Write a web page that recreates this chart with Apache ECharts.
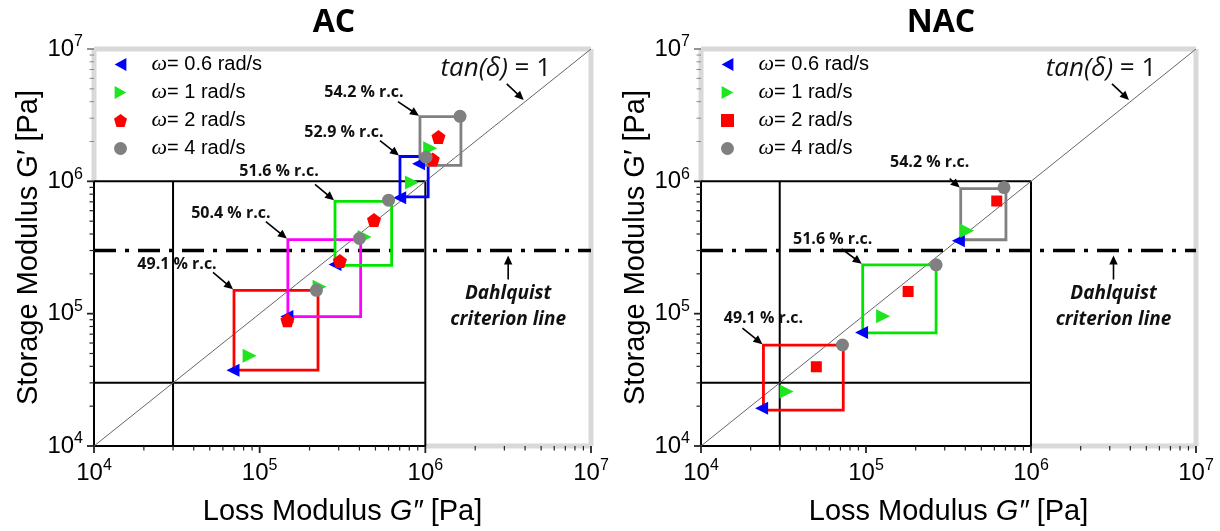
<!DOCTYPE html>
<html>
<head>
<meta charset="utf-8">
<script src="https://cdn.jsdelivr.net/npm/echarts@6/dist/echarts.min.js"></script>
<style>
  html, body { margin: 0; padding: 0; background: #fff; }
  #chart { width: 1220px; height: 531px; }
</style>
</head>
<body>
<div id="chart"></div>
<script>
// ---------------- data ----------------
const panelTitles = ['AC', 'NAC'];
const freqLabels = ['ω= 0.6 rad/s', 'ω= 1 rad/s', 'ω= 2 rad/s', 'ω= 4 rad/s'];

// AC sample, [G'', G'] in Pa, one entry per concentration (49.1 … 54.2 % r.c.)
const acRc = ['49.1 % r.c.', '50.4 % r.c.', '51.6 % r.c.', '52.9 % r.c.', '54.2 % r.c.'];
const acW06 = [[6.9e4, 3.74e4], [1.46e5, 9.5e4], [2.85e5, 2.35e5], [7.0e5, 7.5e5], [9.1e5, 1.36e6]];
const acW1  = [[8.7e4, 4.8e4], [2.3e5, 1.6e5], [4.3e5, 3.8e5], [8.3e5, 9.8e5], [1.07e6, 1.78e6]];
const acW2  = [[1.47e5, 8.9e4], [3.05e5, 2.5e5], [4.9e5, 5.1e5], [1.11e6, 1.46e6], [1.2e6, 2.16e6]];
const acW4  = [[2.2e5, 1.5e5], [4.0e5, 3.7e5], [6.0e5, 7.2e5], [1.01e6, 1.52e6], [1.62e6, 3.1e6]];
// concentration windows [G''min, G'min, G''max, G'max]
const acBoxes = [
  [7.0e4, 3.75e4, 2.25e5, 1.5e5],
  [1.48e5, 9.5e4, 4.07e5, 3.63e5],
  [2.85e5, 2.32e5, 6.26e5, 7.06e5],
  [7.03e5, 7.62e5, 1.04e6, 1.54e6],
  [9.28e5, 1.32e6, 1.64e6, 3.08e6]
];

// NAC sample
const nacRc = ['49.1 % r.c.', '51.6 % r.c.', '54.2 % r.c.'];
const nacW06 = [[2.33e4, 1.93e4], [9.4e4, 7.2e4], [3.63e5, 3.56e5]];
const nacW1  = [[3.3e4, 2.58e4], [1.27e5, 9.55e4], [4.1e5, 4.23e5]];
const nacW2  = [[5.0e4, 3.97e4], [1.8e5, 1.47e5], [6.2e5, 7.1e5]];
const nacW4  = [[7.2e4, 5.8e4], [2.66e5, 2.34e5], [6.86e5, 8.97e5]];
const nacBoxes = [
  [2.39e4, 1.87e4, 7.28e4, 5.78e4],
  [9.55e4, 7.16e4, 2.66e5, 2.34e5],
  [3.75e5, 3.62e5, 7.05e5, 8.81e5]
];

// axes and reference levels
const axisMin = 1e4, axisMax = 1e7;
const decadeTicks = [1e4, 1e5, 1e6, 1e7];
const minorSteps = [2, 3, 4, 5, 6, 7, 8, 9];
const guideLevels = [1e4, 3e4, 1e6];      // black guide lines, drawn up to 1e6
const guideEnd = 1e6;
const dahlquistLevel = 3e5;
const dahlquistNoteAt = 10 ** 6.5;
const tanNoteAt = 10 ** 6.6;

// ---------------- styles ----------------
const boxColorsAC = ['#ff0000', '#ff00ff', '#00e600', '#0000ff', '#808080'];
const boxColorsNAC = ['#ff0000', '#00e600', '#808080'];
const markerColors = ['#0000ff', '#1fe51f', '#ff0000', '#808080'];
const triLeft = 'path://M0,5L9,0L9,10Z';
const triRight = 'path://M9,5L0,0L0,10Z';
const pentagon = 'path://M5,0L10,3.7L8.1,10L1.9,10L0,3.7Z';
const square = 'path://M0,0L10,0L10,10L0,10Z';
const acSymbols = [triLeft, triRight, pentagon, 'circle'];
const nacSymbols = [triLeft, triRight, square, 'circle'];
const acSizes = [13, 14, 14, 13];
const nacSizes = [13, 14, 11, 13];

// pixel offsets of the r.c. labels and arrow tails, relative to the window's upper-left corner
const acNoteLayout = [
  { text: [-57, -26], tail: [-21, -18] },
  { text: [-57, -26], tail: [-22, -18] },
  { text: [-56, -30], tail: [-20, -17] },
  { text: [-56, -24], tail: [-20, -16] },
  { text: [-56, -24], tail: [-22, -15] }
];
const nacNoteLayout = [
  { text: [0, -27], tail: [-21, -17] },
  { text: [-30, -25], tail: [-21, -16] },
  { text: [-31, -26], tail: [-11, -10] }
];

const sansFont = 'Liberation Sans, Arial, sans-serif';
const noteFont = '"Open Sans", sans-serif';

function arrow(tail, tip, width) {
  const dx = tip[0] - tail[0], dy = tip[1] - tail[1];
  const len = Math.hypot(dx, dy);
  const ux = dx / len, uy = dy / len;
  const hl = 9, hw = 4.2;
  const bx = tip[0] - ux * hl, by = tip[1] - uy * hl;
  return [
    { type: 'line', shape: { x1: tail[0], y1: tail[1], x2: bx + ux, y2: by + uy },
      style: { stroke: '#000', lineWidth: width || 1.6 } },
    { type: 'polygon', shape: { points: [tip, [bx - uy * hw, by + ux * hw], [bx + uy * hw, by - ux * hw]] },
      style: { fill: '#000' } }
  ];
}

function buildPanel(idx, points, symbols, sizes, boxes, boxColors, rcLabels, noteLayout) {
  const ax = { xAxisIndex: idx, yAxisIndex: idx };
  const series = [];

  // light grey frame around the plotting area
  const frameSegs = [
    [axisMin, axisMax, axisMax, axisMax],
    [axisMax, axisMin, axisMax, axisMax],
    [axisMin, guideEnd, axisMin, axisMax],
    [guideEnd, axisMin, axisMax, axisMin]
  ];
  // black guide lines: axes, 3e4 and 1e6 levels
  const guideSegs = [];
  guideLevels.forEach(v => {
    guideSegs.push([v, axisMin, v, guideEnd]);
    guideSegs.push([axisMin, v, guideEnd, v]);
  });
  const segSeries = (data, color, width) => ({
    type: 'custom', ...ax, z: 1, silent: true, clip: false,
    encode: { x: [0, 2], y: [1, 3] },
    data,
    renderItem: (p, api) => {
      const a = api.coord([api.value(0), api.value(1)]);
      const b = api.coord([api.value(2), api.value(3)]);
      return { type: 'line', shape: { x1: a[0], y1: a[1], x2: b[0], y2: b[1] },
        style: { stroke: color, lineWidth: width } };
    }
  });
  series.push(segSeries(frameSegs, '#d9d9d9', 5));
  series.push(segSeries(guideSegs, '#000', 2));

  // tick marks (decades and 2..9 minors)
  const ticks = [];
  decadeTicks.forEach((d, i) => {
    ticks.push([d, d, 1]);
    if (i < decadeTicks.length - 1) minorSteps.forEach(m => ticks.push([d * m, d * m, 0]));
  });
  series.push({
    type: 'custom', ...ax, z: 2, silent: true, clip: false,
    encode: { x: 0, y: 1 },
    data: ticks,
    renderItem: (p, api) => {
      const v = api.value(0);
      const major = api.value(2) === 1;
      const len = major ? 7 : 4.5;
      const px = api.coord([v, axisMin]);
      const py = api.coord([axisMin, v]);
      const upper = v > guideEnd;
      return { type: 'group', children: [
        { type: 'line', shape: { x1: px[0], y1: px[1], x2: px[0], y2: px[1] + len },
          style: { stroke: '#222', lineWidth: major ? 1.8 : 1.2 } },
        { type: 'line', shape: { x1: py[0] - len, y1: py[1], x2: py[0], y2: py[1] },
          style: { stroke: upper ? '#888' : '#222', lineWidth: major ? 1.8 : (upper ? 1 : 1.2) } }
      ] };
    }
  });

  // tan(δ) = 1 diagonal
  series.push({
    type: 'line', ...ax, z: 2, silent: true, symbol: 'none',
    data: [[axisMin, axisMin], [axisMax, axisMax]],
    lineStyle: { color: '#666', width: 1 }
  });
  // Dahlquist criterion
  series.push({
    type: 'line', ...ax, z: 2, silent: true, symbol: 'none',
    data: [[axisMin, dahlquistLevel], [axisMax, dahlquistLevel]],
    lineStyle: { color: '#000', width: 3.5, type: [22, 9, 4, 9] }
  });

  // concentration windows
  series.push({
    type: 'custom', ...ax, z: 3, silent: true, clip: false,
    encode: { x: [0, 2], y: [1, 3] },
    data: boxes,
    renderItem: (p, api) => {
      const a = api.coord([api.value(0), api.value(1)]);
      const b = api.coord([api.value(2), api.value(3)]);
      return { type: 'rect',
        shape: { x: a[0], y: b[1], width: b[0] - a[0], height: a[1] - b[1] },
        style: { fill: 'none', stroke: boxColors[p.dataIndex], lineWidth: 2.8 } };
    }
  });

  // measured points
  points.forEach((d, i) => {
    series.push({
      type: 'scatter', ...ax, z: 5, name: freqLabels[i],
      symbol: symbols[i], symbolSize: sizes[i],
      itemStyle: { color: markerColors[i], opacity: 1 },
      data: d
    });
  });

  // r.c. labels with arrows to each window
  series.push({
    type: 'custom', ...ax, z: 6, silent: true, clip: false,
    encode: { x: 0, y: 1 },
    data: boxes.map(b => [b[0], b[3]]),
    renderItem: (p, api) => {
      const c = api.coord([api.value(0), api.value(1)]);
      const lay = noteLayout[p.dataIndex];
      const tip = [c[0] - 1, c[1] - 1];
      return { type: 'group', children: [
        ...arrow([c[0] + lay.tail[0], c[1] + lay.tail[1]], tip, 1.6),
        { type: 'text', style: {
            text: rcLabels[p.dataIndex], x: c[0] + lay.text[0], y: c[1] + lay.text[1],
            font: 'bold 16px ' + noteFont, fill: '#111', align: 'center', verticalAlign: 'middle' } }
      ] };
    }
  });

  // tan(δ) = 1 note
  series.push({
    type: 'custom', ...ax, z: 6, silent: true, clip: false,
    encode: { x: 0, y: 1 },
    data: [[tanNoteAt, tanNoteAt]],
    renderItem: (p, api) => {
      const c = api.coord([api.value(0), api.value(1)]);
      return { type: 'group', children: [
        ...arrow([c[0] - 18, c[1] - 18], [c[0] - 1, c[1] - 2], 1.6),
        { type: 'text', style: {
            text: '{i|tan(δ)} = 1', x: c[0] - 29, y: c[1] - 33,
            font: '26px ' + noteFont, fill: '#111', align: 'center', verticalAlign: 'middle',
            rich: { i: { fontStyle: 'italic', fontSize: 26, fontFamily: noteFont, fill: '#111' } } } }
      ] };
    }
  });

  // Dahlquist note
  series.push({
    type: 'custom', ...ax, z: 6, silent: true, clip: false,
    encode: { x: 0, y: 1 },
    data: [[dahlquistNoteAt, dahlquistLevel]],
    renderItem: (p, api) => {
      const c = api.coord([api.value(0), api.value(1)]);
      return { type: 'group', children: [
        ...arrow([c[0], c[1] + 29], [c[0], c[1] + 5], 1.6),
        { type: 'text', style: {
            text: 'Dahlquist', x: c[0], y: c[1] + 43,
            font: 'italic bold 19px ' + noteFont, fill: '#111', align: 'center', verticalAlign: 'middle' } },
        { type: 'text', style: {
            text: 'criterion line', x: c[0], y: c[1] + 69,
            font: 'italic bold 19px ' + noteFont, fill: '#111', align: 'center', verticalAlign: 'middle' } }
      ] };
    }
  });

  return series;
}

const powerLabel = v => '{b|10}{s|' + Math.round(Math.log10(v)) + '}';
const powerRich = {
  b: { fontSize: 24, fontFamily: sansFont, color: '#000', lineHeight: 30 },
  s: { fontSize: 16, fontFamily: sansFont, color: '#000', lineHeight: 16, verticalAlign: 'top' }
};

function xAxisFor(idx) {
  return {
    gridIndex: idx, type: 'log', logBase: 10, min: axisMin, max: axisMax, splitNumber: 3,
    axisLine: { show: false }, axisTick: { show: false }, splitLine: { show: false },
    axisLabel: { formatter: powerLabel, rich: powerRich, margin: 12 },
    name: 'Loss Modulus {i|G″} [Pa]', nameLocation: 'middle', nameGap: 51,
    nameTextStyle: { fontSize: 29, fontFamily: sansFont, color: '#000',
      rich: { i: { fontSize: 29, fontFamily: sansFont, fontStyle: 'italic', color: '#000' } } }
  };
}
function yAxisFor(idx) {
  return {
    gridIndex: idx, type: 'log', logBase: 10, min: axisMin, max: axisMax, splitNumber: 3,
    axisLine: { show: false }, axisTick: { show: false }, splitLine: { show: false },
    axisLabel: { formatter: powerLabel, rich: powerRich, margin: 11 },
    name: 'Storage Modulus G′ [Pa]', nameLocation: 'middle', nameGap: 49,
    nameTextStyle: { fontSize: 29, fontFamily: sansFont, color: '#000' }
  };
}

function legendFor(left, icons) {
  return {
    left, top: 48, orient: 'vertical', selectedMode: false,
    itemWidth: 14, itemHeight: 13, itemGap: 5,
    data: freqLabels.map((n, i) => ({ name: n, icon: icons[i] })),
    formatter: n => '{w|ω}' + n.slice(1),
    textStyle: { fontSize: 20, fontFamily: sansFont, color: '#000', lineHeight: 23,
      rich: { w: { fontSize: 22, fontFamily: 'Liberation Serif, serif', fontStyle: 'italic', color: '#000',
        lineHeight: 23, padding: [0, 0, 0, 19] } } }
  };
}

const option = {
  animation: false,
  backgroundColor: '#fff',
  title: [
    { text: panelTitles[0], left: 329, top: 2, textAlign: 'center',
      textStyle: { fontFamily: noteFont, fontWeight: 'bold', fontSize: 32, color: '#000' } },
    { text: panelTitles[1], left: 936, top: 2, textAlign: 'center',
      textStyle: { fontFamily: noteFont, fontWeight: 'bold', fontSize: 32, color: '#000' } }
  ],
  grid: [
    { left: 94, top: 49, width: 497, height: 399, show: false },
    { left: 701, top: 49, width: 495, height: 399, show: false }
  ],
  xAxis: [xAxisFor(0), xAxisFor(1)],
  yAxis: [yAxisFor(0), yAxisFor(1)],
  legend: [legendFor(109, acSymbols), legendFor(716, nacSymbols)],
  series: [
    ...buildPanel(0, [acW06, acW1, acW2, acW4], acSymbols, acSizes, acBoxes, boxColorsAC, acRc, acNoteLayout),
    ...buildPanel(1, [nacW06, nacW1, nacW2, nacW4], nacSymbols, nacSizes, nacBoxes, boxColorsNAC, nacRc, nacNoteLayout)
  ]
};

const chart = echarts.init(document.getElementById('chart'), null, { renderer: 'canvas' });
chart.setOption(option);
</script>
</body>
</html>
